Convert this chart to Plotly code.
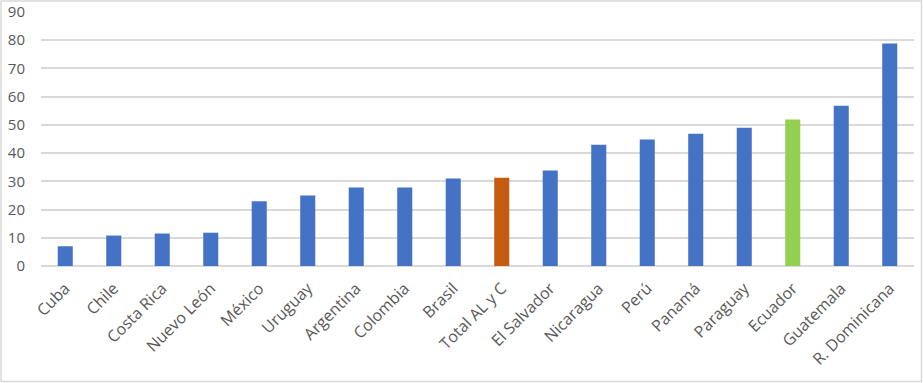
import plotly.graph_objects as go

categories = ["Cuba", "Chile", "Costa Rica", "Nuevo León", "México", "Uruguay",
              "Argentina", "Colombia", "Brasil", "Total AL y C", "El Salvador",
              "Nicaragua", "Perú", "Panamá", "Paraguay", "Ecuador", "Guatemala",
              "R. Dominicana"]
values = [7, 10.8, 11.5, 11.8, 22.9, 25, 27.8, 27.8, 31, 31.3, 33.8,
          43, 44.8, 46.9, 49, 51.9, 56.8, 78.8]
highlight = {"Total AL y C": "#C55A11", "Ecuador": "#92D050"}
base_color = "#4472C4"
colors = [highlight.get(c, base_color) for c in categories]
y_ticks = [0, 10, 20, 30, 40, 50, 60, 70, 80, 90]

W, H = 923, 383
ml, mr, mt, mb = 41, 9, 12, 117
pw, ph = W - ml - mr, H - mt - mb

fig = go.Figure(go.Bar(x=categories, y=values, marker_color=colors,
                       marker_line_width=0, width=0.31))

fig.update_layout(
    width=W, height=H,
    margin=dict(l=ml, r=mr, t=mt, b=mb, autoexpand=False),
    plot_bgcolor="white", paper_bgcolor="white",
    font=dict(family="'Open Sans', Lato, sans-serif", size=15, color="#595959"),
    showlegend=False,
    xaxis=dict(tickangle=-45, showgrid=False, showline=False, ticks="",
               automargin=False, ticklabelstandoff=9,
               tickfont=dict(size=16, color="#595959")),
    yaxis=dict(range=[0, 90], tickvals=y_ticks, showgrid=True, gridcolor="#d9d9d9",
               gridwidth=1.5, zeroline=True, zerolinecolor="#d9d9d9", zerolinewidth=1.5,
               showline=False, ticks="", ticklabelstandoff=15, automargin=False,
               tickfont=dict(size=15, color="#595959")),
    shapes=[dict(type="rect", xref="paper", yref="paper",
                 x0=-(ml - 1) / pw, x1=1 + (mr - 1.5) / pw,
                 y0=-(mb - 1.5) / ph, y1=1 + (mt - 1) / ph,
                 line=dict(color="#d9d9d9", width=1.5), layer="below")],
)

fig.write_html("out.html", config={"displayModeBar": False},
               post_script="document.body.style.margin='0';document.body.style.padding='0';")
